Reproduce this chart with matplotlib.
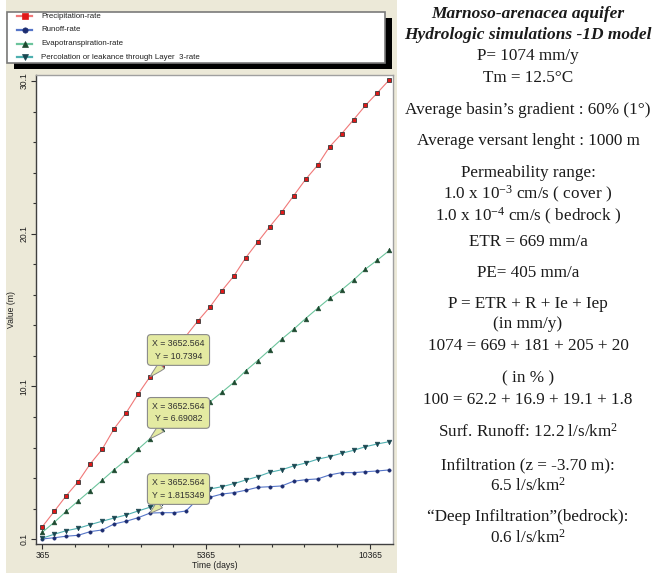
import matplotlib
matplotlib.use('Agg')
import matplotlib.pyplot as plt
from matplotlib.ticker import FixedLocator
from matplotlib.patches import Rectangle

plt.rcParams['font.family'] = ['Liberation Sans', 'DejaVu Sans']
plt.rcParams['mathtext.fontset'] = 'custom'
plt.rcParams['mathtext.rm'] = 'Liberation Serif'
plt.rcParams['mathtext.it'] = 'Liberation Serif:italic'

# ---- data ----
time_days = [365.3, 730.5, 1095.8, 1461.0, 1826.3, 2191.5, 2556.8, 2922.1, 3287.3, 3652.6,
             4017.8, 4383.1, 4748.3, 5113.6, 5478.8, 5844.1, 6209.4, 6574.6, 6939.9, 7305.1,
             7670.4, 8035.6, 8400.9, 8766.2, 9131.4, 9496.7, 9861.9, 10227.2, 10592.4, 10957.7]

precipitation = [0.92, 1.93, 2.95, 3.87, 5.03, 5.99, 7.34, 8.37, 9.6, 10.74,
                 11.41, 12.4, 13.4, 14.39, 15.3, 16.37, 17.33, 18.53, 19.56, 20.56,
                 21.52, 22.59, 23.66, 24.58, 25.79, 26.64, 27.56, 28.5, 29.33, 30.18]

runoff = [0.12, 0.2, 0.3, 0.36, 0.6, 0.71, 1.1, 1.28, 1.51, 1.815,
          1.84, 1.84, 1.95, 2.74, 2.85, 3.06, 3.15, 3.31, 3.5, 3.54,
          3.59, 3.9, 4.0, 4.05, 4.31, 4.46, 4.46, 4.52, 4.57, 4.64]

evapotranspiration = [0.56, 1.21, 1.93, 2.61, 3.28, 3.96, 4.65, 5.29, 5.99, 6.69,
                      7.32, 7.75, 8.2, 8.65, 9.1, 9.72, 10.37, 11.13, 11.8, 12.5,
                      13.2, 13.85, 14.55, 15.22, 15.87, 16.42, 17.07, 17.79, 18.38, 19.01]

percolation = [0.17, 0.43, 0.66, 0.82, 1.06, 1.28, 1.49, 1.69, 1.95, 2.2,
               2.5, 2.72, 2.95, 3.17, 3.39, 3.54, 3.74, 3.98, 4.2, 4.48,
               4.65, 4.9, 5.09, 5.34, 5.51, 5.73, 5.92, 6.16, 6.34, 6.49]

series_names = ['Precipitation-rate', 'Runoff-rate', 'Evapotranspiration-rate',
                'Percolation or leakance through Layer  3-rate']

probe_day = 3652.564
probe_values = [10.7394, 6.69082, 1.815349]
probe_labels = ['10.7394', '6.69082', '1.815349']

x_major = [365, 5365, 10365]
y_major = [0.1, 10.1, 20.1, 30.1]

notes = [
    ('P= 1074 mm/y', 56),
    ('Tm = 12.5°C', 78),
    ("Average basin’s gradient : 60% (1°)", 110),
    ('Average versant lenght : 1000 m', 141),
    ('Permeability range:', 173),
    (r'1.0 x 10$^{\mathrm{-3}}$ cm/s ( cover )', 194),
    (r'1.0 x 10$^{\mathrm{-4}}$ cm/s ( bedrock )', 216),
    ('ETR = 669 mm/a', 242),
    ('PE= 405 mm/a', 273),
    ('P = ETR + R + Ie + Iep', 304),
    ('(in mm/y)', 324),
    ('1074 = 669 + 181 + 205 + 20', 346),
    ('( in % )', 378),
    ('100 = 62.2 + 16.9 + 19.1 + 1.8', 400),
    (r'Surf. Runoff: 12.2 l/s/km$^{\mathrm{2}}$', 432),
    ('Infiltration (z = -3.70 m):', 465),
    (r'6.5 l/s/km$^{\mathrm{2}}$', 486),
    ('“Deep Infiltration”(bedrock):', 517),
    (r'0.6 l/s/km$^{\mathrm{2}}$', 538),
]

# ---- styles ----
styles = [
    dict(color='#F07878', marker='s', ms=3.4, mfc='#E01818', mec='#383838', mew=0.6),
    dict(color='#5575C8', marker='o', ms=2.4, mfc='#1C2C70', mec='#1C2C70', mew=0.4),
    dict(color='#6CC49C', marker='^', ms=3.4, mfc='#1E4A30', mec='#1E4A30', mew=0.4),
    dict(color='#4FB0B0', marker='v', ms=3.4, mfc='#1A4650', mec='#1A4650', mew=0.4),
]
beige = '#ECE9D8'
tip_face = '#E4EAA2'

W, H = 661, 573
fig = plt.figure(figsize=(W / 100, H / 100), dpi=100)
fig.patch.set_facecolor('white')

bg = fig.add_axes([0, 0, 1, 1], zorder=0)
bg.set_xlim(0, W)
bg.set_ylim(H, 0)
bg.axis('off')
bg.add_patch(Rectangle((6, 0), 391, H, fc=beige, ec='none'))

# legend window
bg.add_patch(Rectangle((14, 18), 378, 51, fc='black', ec='none'))
bg.add_patch(Rectangle((7, 12), 378, 51, fc='white', ec='#7A7A7A', lw=1.2))
for i, name in enumerate(series_names):
    yy = 16 + i * 13.8
    st = styles[i]
    bg.plot([17, 32], [yy, yy], color=st['color'], lw=1.6)
    bg.plot([24.5], [yy], marker=st['marker'], ms=st['ms'] + 1.4,
            mfc=st['mfc'], mec=st['mfc'] if i == 0 else st['mec'], mew=0.5)
    bg.text(41, yy, name, fontsize=5.7, va='center', ha='left', color='#202020')

# ---- main chart ----
ax = fig.add_axes([36 / W, 1 - 544 / H, (393 - 36) / W, (544 - 75) / H], zorder=2)
ax.set_facecolor('white')
for vals, st in zip([precipitation, runoff, evapotranspiration, percolation], styles):
    ax.plot(time_days, vals, lw=0.8, **st)

ax.set_xlim(173, 11067)
ax.set_ylim(-0.21, 30.49)
ax.xaxis.set_major_locator(FixedLocator(x_major))
ax.xaxis.set_minor_locator(FixedLocator([d for d in range(1365, 11000, 1000) if d not in x_major]))
ax.yaxis.set_major_locator(FixedLocator(y_major))
ax.yaxis.set_minor_locator(FixedLocator([v / 10 for v in range(21, 300, 20) if (v - 1) % 100 != 0]))
ax.set_xticklabels([str(v) for v in x_major])
ax.set_yticklabels([str(v) for v in y_major], rotation=90, va='center')
ax.tick_params(which='major', direction='out', length=3.8, width=0.8, color='#303030',
               labelsize=6.2, pad=1.5, labelcolor='#202020')
ax.tick_params(which='minor', direction='out', length=2.2, width=0.8, color='#303030')
for side in ['left', 'bottom']:
    ax.spines[side].set_color('#404040')
    ax.spines[side].set_linewidth(1.0)
for side in ['top', 'right']:
    ax.spines[side].set_color('#A0A0A0')
    ax.spines[side].set_linewidth(1.0)

bg.text(12, 309.5, 'Value (m)', rotation=90, ha='center', va='center', fontsize=6.2, color='#202020')
bg.text(214.5, 566, 'Time (days)', ha='center', va='center', fontsize=6.2, color='#202020')

# probe tooltips
tip_y = [12.49, 8.37, 3.39]
for val, lab, ty in zip(probe_values, probe_labels, tip_y):
    ax.annotate('X = %.3f\nY = %s' % (probe_day, lab), xy=(probe_day, val), xytext=(4521, ty),
                textcoords='data', ha='center', va='center', fontsize=6.3, color='#303030',
                linespacing=1.45, zorder=5,
                bbox=dict(boxstyle='round,pad=0.55,rounding_size=0.4', fc=tip_face, ec='#8A8A8A', lw=0.8),
                arrowprops=dict(arrowstyle='wedge,tail_width=0.9,shrink_factor=0.6',
                                fc=tip_face, ec='#8A8A8A', lw=0.7, shrinkA=0, shrinkB=0))

# ---- right-hand notes ----
bg.text(528, 14, 'Marnoso-arenacea aquifer', ha='center', va='center', fontsize=12.5,
        family='Liberation Serif', style='italic', weight='bold', color='#1A1A1A')
bg.text(528, 35, 'Hydrologic simulations -1D model', ha='center', va='center', fontsize=12.5,
        family='Liberation Serif', style='italic', weight='bold', color='#1A1A1A')
for txt, yy in notes:
    bg.text(528, yy, txt, ha='center', va='center', fontsize=12.3,
            family='Liberation Serif', color='#1A1A1A')

fig.savefig('out.png', dpi=100)
